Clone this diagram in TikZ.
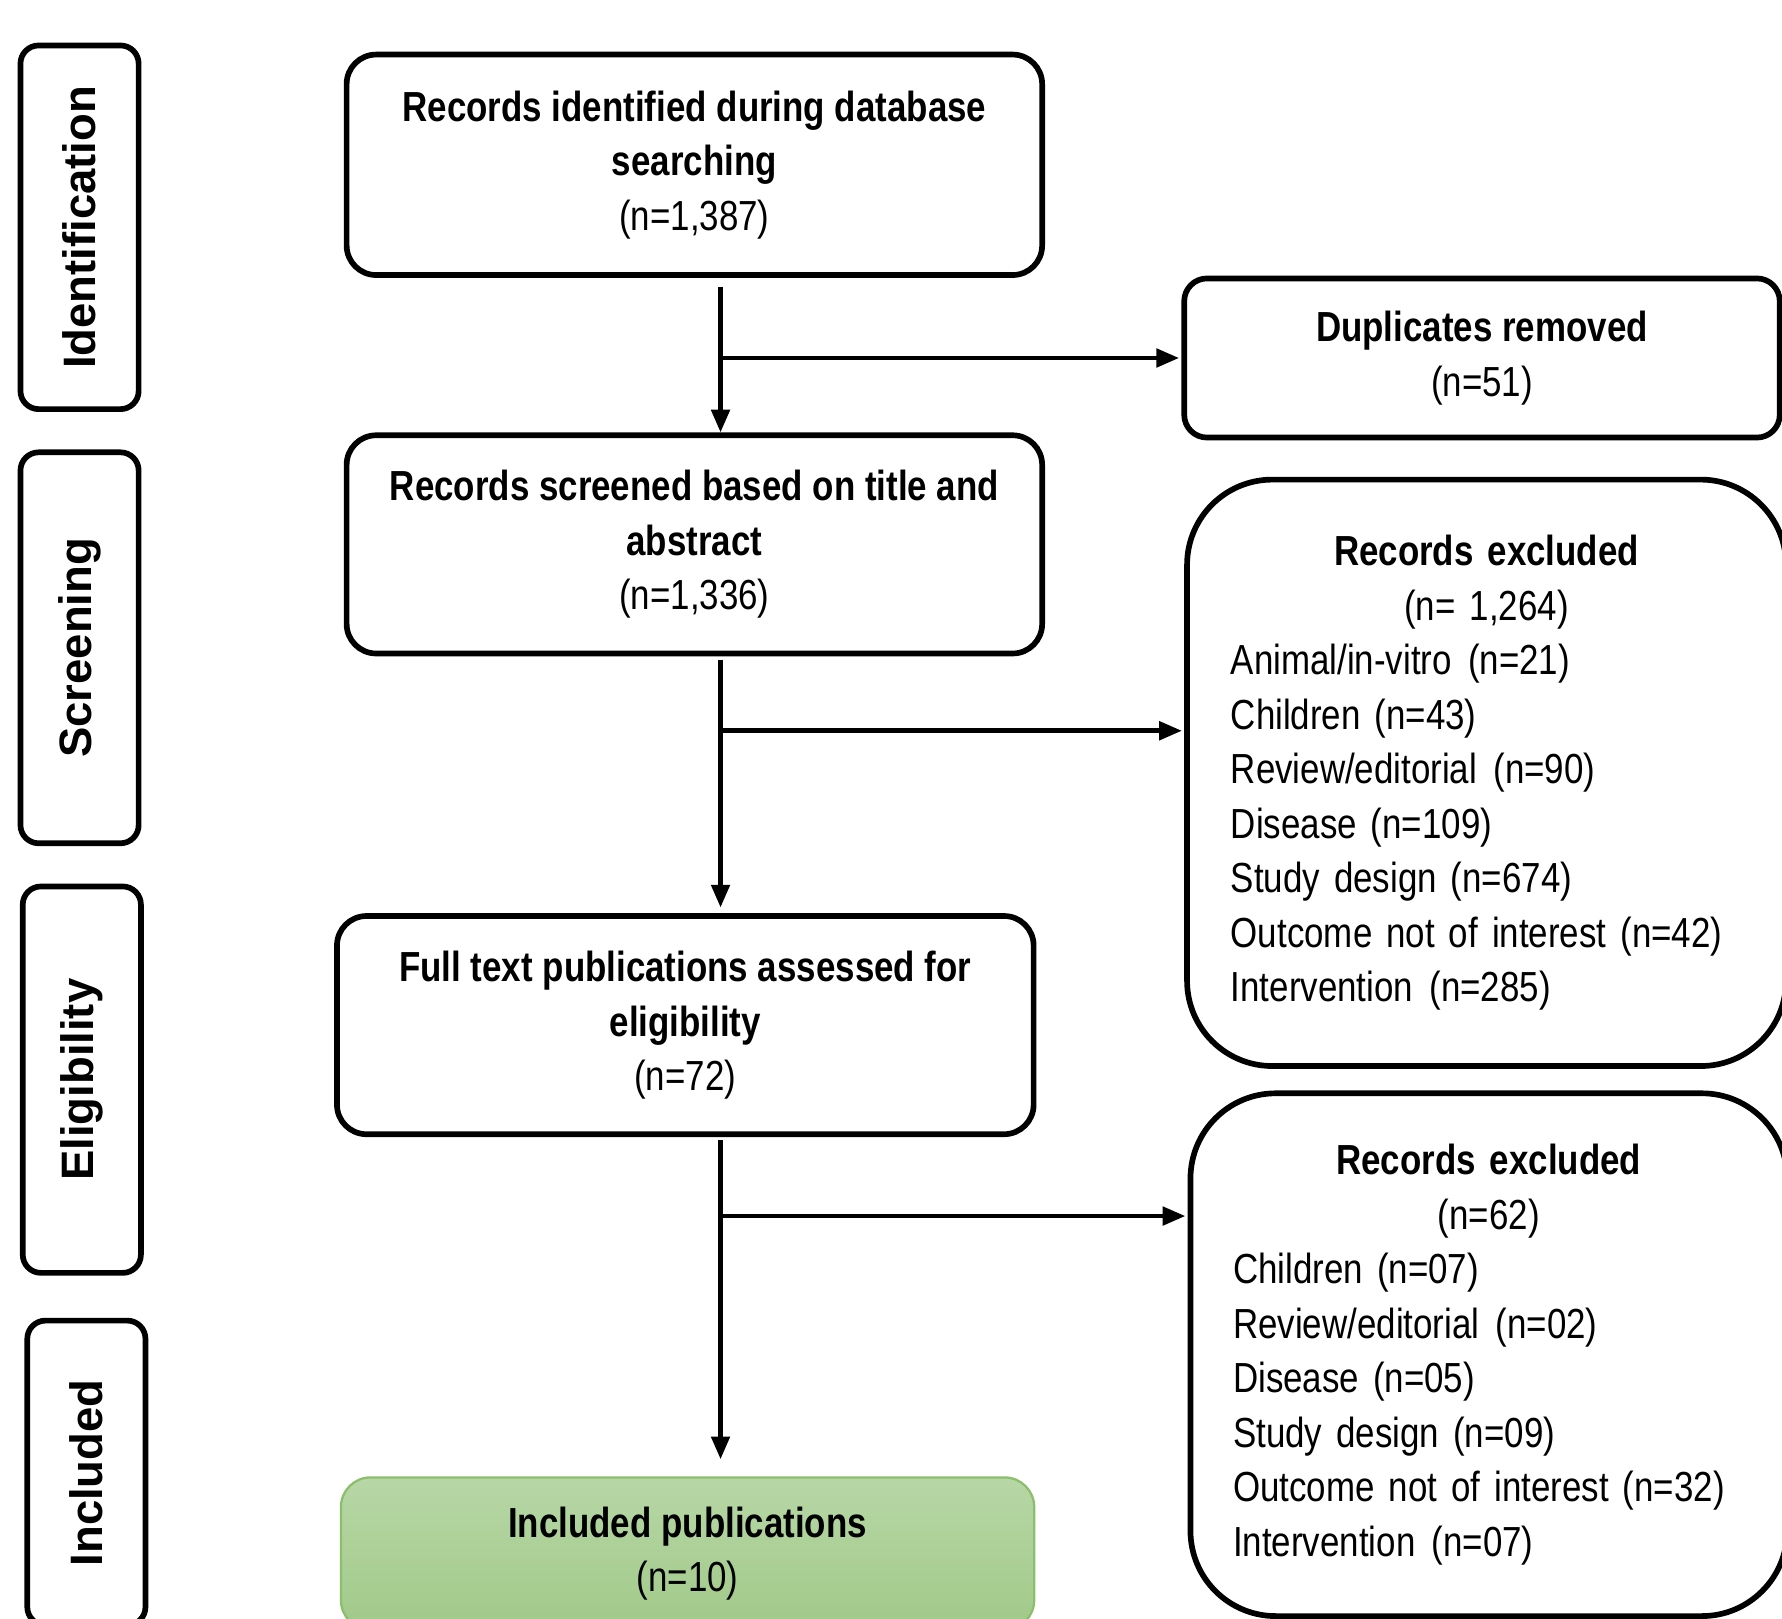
\documentclass[tikz,border=0pt]{standalone}
\usepackage{fontspec}
\setmainfont{Liberation Sans}[FakeStretch=0.83]
\newfontfamily\phasefont{Liberation Sans}
\usetikzlibrary{arrows.meta}

\definecolor{inclline}{HTML}{8CBF6C}
\definecolor{incltop}{HTML}{B7D7A6}
\definecolor{inclbot}{HTML}{A1C989}
\newcommand\exhead[1]{\makebox[450pt]{#1}}
\newcommand\gap{\ \hspace{2pt}}

\tikzset{
	box/.style={draw, line width=5pt, rounded corners=#1, inner sep=0pt},
	phase/.style={box=16, rotate=90, minimum height=104pt, font=\phasefont\fontsize{40}{48}\selectfont\bfseries},
	stage/.style={box=26, align=center},
	side/.style={box=#1, align=left, text width=450pt},
	arr/.style={line width=4pt, -{Triangle[length=20pt,width=16pt]}}
}

\begin{document}
\begin{tikzpicture}[x=1pt,y=-1pt,font=\fontsize{37}{48}\selectfont]
	\useasboundingbox (0,0) rectangle (1568,1424);
	\clip (0,0) rectangle (1568,1424);

	% phase labels on the left
	\foreach \n/\t/\x/\y/\h in {ident/Identification/70/200/320,screen/Screening/70/570/344,elig/Eligibility/72/950/340,incl/Included/76/1296/268}
		\node[phase, minimum width=\h pt] (\n) at (\x,\y) {\t};

	% main column
	\node[stage, minimum width=612pt, minimum height=194pt] (recid) at (611,145)
		{\textbf{Records identified during database}\\\textbf{searching}\\(n=1,387)};
	\node[stage, minimum width=612pt, minimum height=192pt] (recscr) at (611,479)
		{\textbf{Records screened based on title and}\\\textbf{abstract}\\(n=1,336)};
	\node[stage, minimum width=613pt, minimum height=192pt] (fulltxt) at (603,902)
		{\textbf{Full text publications assessed for}\\\textbf{eligibility}\\(n=72)};
	\node[stage, draw=inclline, line width=2pt, top color=incltop, bottom color=inclbot,
		minimum width=610pt, minimum height=134pt] (inclpub) at (605,1367)
		{\textbf{Included publications}\\(n=10)};

	% side boxes
	\node[stage, box=20, minimum width=524pt, minimum height=140pt] (dupl) at (1304,315)
		{\textbf{Duplicates removed}\\(n=51)};
	\node[side=75, minimum width=527pt, minimum height=516pt] (excl1) at (1308,680)
		{\exhead{\textbf{Records excluded}}\\\exhead{(n= 1,264)}\\
		Animal/in-vitro\gap(n=21)\\Children (n=43)\\Review/editorial\gap(n=90)\\
		Disease (n=109)\\Study design (n=674)\\Outcome not of interest (n=42)\\
		Intervention\gap(n=285)};
	\node[side=75, minimum width=525pt, minimum height=460pt] (excl2) at (1310,1192)
		{\exhead{\textbf{Records excluded}}\\\exhead{(n=62)}\\
		Children (n=07)\\Review/editorial\gap(n=02)\\Disease (n=05)\\
		Study design (n=09)\\Outcome not of interest (n=32)\\Intervention\gap(n=07)};

	% arrows
	\coordinate (spine) at (634,0);
	\coordinate (b1) at (634,643);
	\coordinate (b2) at (634,1070);
	\draw[arr] ([yshift=-8pt]recid.south -| spine) -- (recscr.north -| spine);
	\draw[arr] ([yshift=-3pt]recscr.south -| spine) -- ([yshift=5pt]fulltxt.north -| spine);
	\draw[arr] ([yshift=-3pt]fulltxt.south -| spine) -- ([yshift=15pt]inclpub.north -| spine);
	\draw[arr] (spine |- dupl.west) -- ([xshift=-2pt]dupl.west);
	\draw[arr] (b1) -- ([xshift=-2pt]b1 -| excl1.west);
	\draw[arr] (b2) -- ([xshift=-2pt]b2 -| excl2.west);
\end{tikzpicture}
\end{document}
